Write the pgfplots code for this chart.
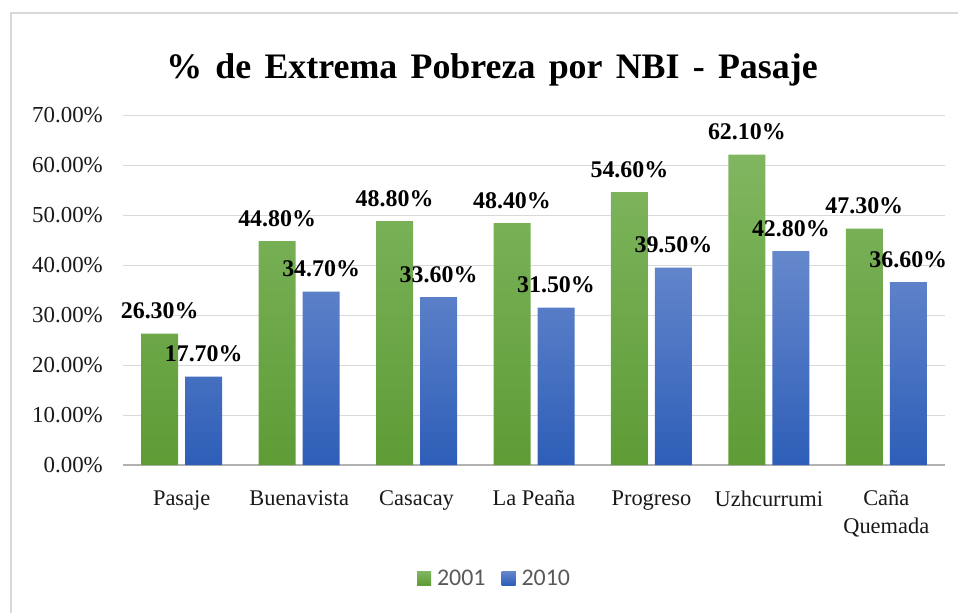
\documentclass[border=0pt]{standalone}
\usepackage{pgfplots}
\pgfplotsset{compat=1.18}
\usepackage{fontspec}
\setmainfont{Liberation Serif}
\newfontfamily\legendfont{Carlito}
\definecolor{gtop}{HTML}{80B660}
\definecolor{gbot}{HTML}{5E9C36}
\definecolor{btop}{HTML}{6688CC}
\definecolor{bbot}{HTML}{2E5EB8}
\definecolor{gleg}{HTML}{6AA842}
\definecolor{bleg}{HTML}{3F6FC6}
\begin{document}
\begin{tikzpicture}
\useasboundingbox (0,0) rectangle (958bp,-613bp);
\draw[black!15, line width=2bp] (11bp,-613bp) -- (11bp,-13bp) -- (958bp,-13bp);
\node[anchor=base, font=\bfseries\fontsize{36}{40}\selectfont] at (492bp,-78bp) {\spaceskip=0.37em plus 0.1em\% de Extrema Pobreza por NBI - Pasaje};
\begin{axis}[
  at={(123bp,-465bp)}, anchor=south west,
  scale only axis, width=822bp, height=350bp,
  xmin=-0.5, xmax=6.5, ymin=0, ymax=70,
  ybar, bar width=37bp,
  axis line style={draw=none}, tick style={draw=none},
  xtick={0,...,6},
  xticklabels={Pasaje,Buenavista,Casacay,La Peaña,Progreso,Uzhcurrumi,{Caña\\Quemada}},
  xticklabel style={align=center, anchor=north, inner sep=0pt, yshift=-21bp, font=\fontsize{22.5}{28}\selectfont, text=black!90},
  ytick={0,10,...,70},
  yticklabel={\pgfmathprintnumber[fixed,fixed zerofill,precision=2]{\tick}\%},
  yticklabel style={anchor=east, inner sep=0pt, xshift=-20bp, font=\fontsize{23}{26}\selectfont, text=black!90},
  /pgf/number format/assume math mode=true,
  ymajorgrids, grid style={black!15, line width=1bp},
  extra y ticks={0}, extra y tick labels={},
  extra y tick style={grid style={black!30, line width=1.5bp}},
  nodes near coords={\pgfmathprintnumber[fixed,fixed zerofill,precision=2]{\pgfplotspointmeta}\%},
  every node near coord/.append style={anchor=base, inner sep=0pt, yshift=15bp, font=\bfseries\fontsize{24}{26}\selectfont, text=black},
  legend columns=2,
  legend style={draw=none, fill=none, at={(0.452,-0.323)}, anchor=center, font=\legendfont\fontsize{24}{26}\selectfont, text=black!65, /tikz/every even column/.append style={column sep=14bp}},
  legend cell align=left,
  clip=false,
]
\addplot[draw=none, top color=gtop, bottom color=gbot, bar shift=-22bp,
  legend image code/.code={\fill[gleg] (0bp,-7bp) rectangle (14bp,7bp); \path (18bp,0bp);}]
  coordinates {(0,26.3) (1,44.8) (2,48.8) (3,48.4) (4,54.6) (5,62.1) (6,47.3)};
\addplot[draw=none, top color=btop, bottom color=bbot, bar shift=22bp,
  legend image code/.code={\fill[bleg] (0bp,-7bp) rectangle (14bp,7bp); \path (18bp,0bp);}]
  coordinates {(0,17.7) (1,34.7) (2,33.6) (3,31.5) (4,39.5) (5,42.8) (6,36.6)};
\legend{2001,2010}
\end{axis}
\end{tikzpicture}
\end{document}
